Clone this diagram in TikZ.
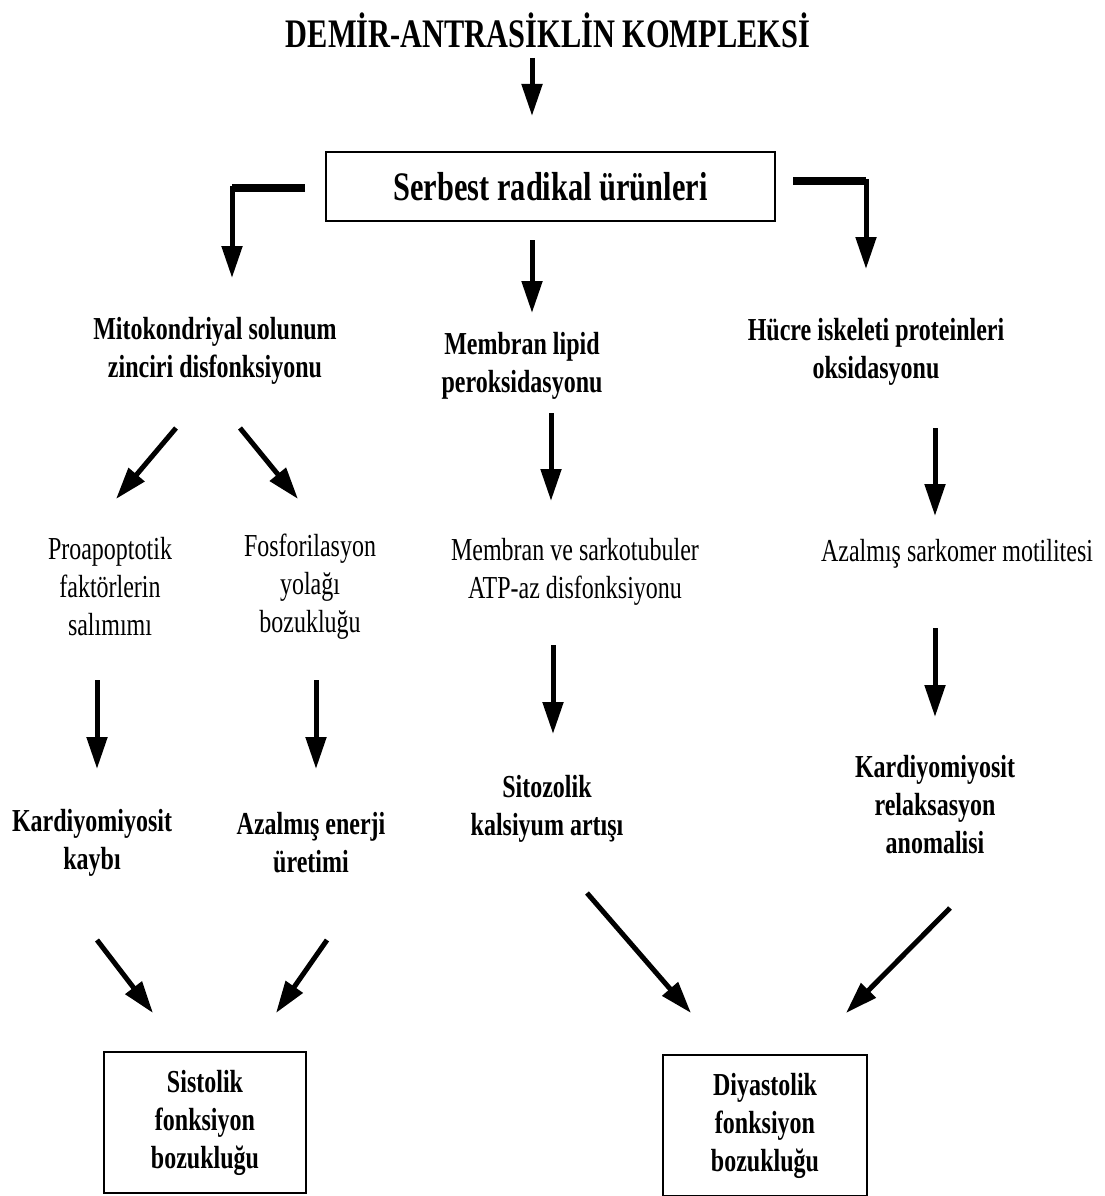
\documentclass[tikz,border=0pt]{standalone}
\usepackage{fontspec}
\setmainfont[FakeStretch=0.75]{Liberation Serif}
\usetikzlibrary{arrows.meta}
\tikzset{
  arr/.style={line width=5pt, -{Triangle[length=32pt,width=20pt]}},
  bar/.style={line width=8pt},
  txt/.style={align=center, inner sep=0pt, font=\fontsize{32pt}{38pt}\selectfont},
  btxt/.style={align=center, inner sep=0pt, font=\fontsize{32pt}{38pt}\selectfont\bfseries},
  ttl/.style={align=center, inner sep=0pt, font=\fontsize{40.5pt}{46pt}\selectfont\bfseries},
  box/.style={draw, line width=2pt, align=center, inner sep=0pt}
}
\begin{document}
\begin{tikzpicture}[x=1pt,y=-1pt]
\useasboundingbox[fill=white] (0,0) rectangle (1104,1196);

% title and top box
\node[ttl] (title) at (548,30) {DEMİR-ANTRASİKLİN KOMPLEKSİ};
\node[box, minimum width=449pt, minimum height=69pt, font=\fontsize{40.5pt}{46pt}\selectfont\bfseries] (srb) at (550.5,186.5) {Serbest radikal ürünleri};

% level 2
\node[btxt] (mito) at (215,351) {Mitokondriyal solunum\\zinciri disfonksiyonu};
\node[btxt] (memb) at (522,366) {Membran lipid\\peroksidasyonu};
\node[btxt] (hucre) at (876,352) {Hücre iskeleti proteinleri\\oksidasyonu};

% level 3
\node[txt] (proa) at (110,587) {Proapoptotik\\faktörlerin\\salımımı};
\node[txt] (fosf) at (310,587) {Fosforilasyon\\yolağı\\bozukluğu};
\node[txt] (atp) at (575,572) {Membran ve sarkotubuler\\ATP-az disfonksiyonu};
\node[txt] (sark) at (957,554) {Azalmış sarkomer motilitesi};

% level 4
\node[btxt] (kayb) at (92,843) {Kardiyomiyosit\\kaybı};
\node[btxt] (ener) at (311,843) {Azalmış enerji\\üretimi};
\node[btxt] (sito) at (547,809) {Sitozolik\\kalsiyum artışı};
\node[btxt] (rela) at (935,805) {Kardiyomiyosit\\relaksasyon\\anomalisi};

% bottom boxes
\node[box, minimum width=202pt, minimum height=141pt, font=\fontsize{32pt}{38pt}\selectfont\bfseries] (sist) at (205,1122.5) {Sistolik\\fonksiyon\\bozukluğu};
\node[box, minimum width=204pt, minimum height=141pt, font=\fontsize{32pt}{38pt}\selectfont\bfseries] (diya) at (765,1125.5) {Diyastolik\\fonksiyon\\bozukluğu};

% connector end points
\coordinate (t0) at (532,58);   \coordinate (t1) at (532,116);
\coordinate (l0) at (305,188);  \coordinate (l1) at (232,278);
\coordinate (r0) at (793,181);  \coordinate (r1) at (866,269);
\coordinate (m0) at (532,240);  \coordinate (m1) at (532,313);
\coordinate (a0) at (176,428);  \coordinate (a1) at (116,499);
\coordinate (b0) at (240,428);  \coordinate (b1) at (298,499);
\coordinate (c0) at (551,413);  \coordinate (c1) at (551,501);
\coordinate (d0) at (935,428);  \coordinate (d1) at (935,516);
\coordinate (e0) at (97,680);   \coordinate (e1) at (97,769);
\coordinate (f0) at (316,680);  \coordinate (f1) at (316,769);
\coordinate (g0) at (553,645);  \coordinate (g1) at (553,734);
\coordinate (h0) at (935,628);  \coordinate (h1) at (935,717);
\coordinate (i0) at (97,940);   \coordinate (i1) at (153,1013);
\coordinate (j0) at (327,940);  \coordinate (j1) at (276,1013);
\coordinate (k0) at (587,893);  \coordinate (k1) at (691,1013);
\coordinate (n0) at (950,908);  \coordinate (n1) at (846,1013);

% connectors
\draw[arr] (t0) -- (t1);
\draw[arr] (l0) -| (l1);
\draw[bar] (l0) -- (l0 -| l1);
\draw[arr] (r0) -| (r1);
\draw[bar] (r0) -- (r0 -| r1);
\draw[arr] (m0) -- (m1);
\draw[arr] (a0) -- (a1);
\draw[arr] (b0) -- (b1);
\draw[arr] (c0) -- (c1);
\draw[arr] (d0) -- (d1);
\draw[arr] (e0) -- (e1);
\draw[arr] (f0) -- (f1);
\draw[arr] (g0) -- (g1);
\draw[arr] (h0) -- (h1);
\draw[arr] (i0) -- (i1);
\draw[arr] (j0) -- (j1);
\draw[arr] (k0) -- (k1);
\draw[arr] (n0) -- (n1);
\end{tikzpicture}
\end{document}
